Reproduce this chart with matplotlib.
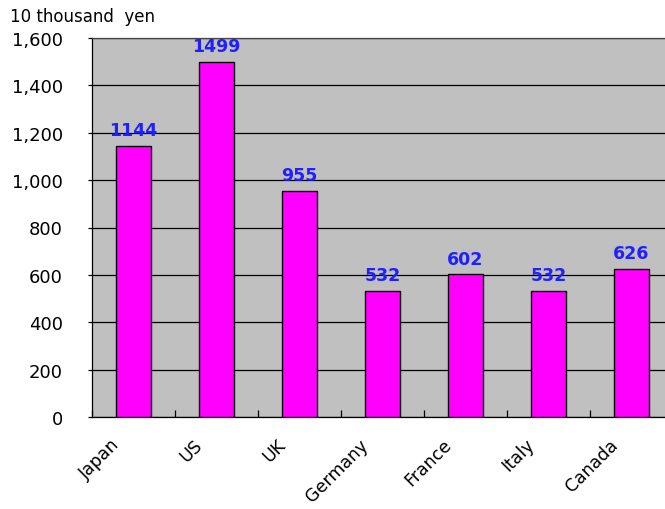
import matplotlib
matplotlib.use("Agg")
import matplotlib.pyplot as plt
import matplotlib.transforms as mtransforms
import numpy as np

countries = ["Japan", "US", "UK", "Germany", "France", "Italy", "Canada"]
values = [1144, 1499, 955, 532, 602, 532, 626]
yticks = [0, 200, 400, 600, 800, 1000, 1200, 1400, 1600]
ytick_labels = ["0", "200", "400", "600", "800", "1,000", "1,200", "1,400", "1,600"]
unit_label = "10 thousand  yen"

plt.rcParams['font.family'] = ['DejaVu Sans']

fig = plt.figure(figsize=(6.65, 5.1), dpi=100)
W, H = 665, 510
left, right, top, bottom = 92, 673, 39, 418
ax = fig.add_axes([left / W, (H - bottom) / H, (right - left) / W, (bottom - top) / H])
ax.set_facecolor("#C0C0C0")

x = np.arange(len(countries))
ax.bar(x, values, width=0.41, color="#FF00FF", edgecolor="black", linewidth=1, zorder=3)
for xi, v in zip(x, values):
    ax.text(xi, v + 28, str(v), ha="center", va="bottom", color="#1F1FFF",
            fontsize=12.5, fontweight="bold", zorder=4)

ax.set_xlim(-0.5, len(countries) - 0.5)
ax.set_ylim(0, 1600)
ax.set_yticks(yticks)
ax.set_yticklabels(ytick_labels, fontsize=13)
ax.yaxis.grid(True, color="black", linewidth=0.9, zorder=1)
ax.set_axisbelow(True)
ax.tick_params(axis="y", direction="out", length=3, pad=18, width=0.9)

# category boundary ticks (inside) and labels at centers
ax.set_xticks(np.arange(len(countries) + 1) - 0.5, minor=False)
ax.set_xticklabels([""] * (len(countries) + 1))
ax.tick_params(axis="x", which="major", direction="in", length=5, width=0.9)
ax.set_xticks(x, minor=True)
ax.set_xticklabels(countries, minor=True, rotation=45, ha="right", va="top",
                   rotation_mode="anchor", fontsize=12.5)
ax.tick_params(axis="x", which="minor", length=0, pad=8)
offset = mtransforms.ScaledTranslation(-23 / 100, -7 / 100, fig.dpi_scale_trans)
for lbl in ax.get_xticklabels(minor=True):
    lbl.set_transform(lbl.get_transform() + offset)

for s in ["left", "bottom", "top", "right"]:
    ax.spines[s].set_linewidth(0.9)
    ax.spines[s].set_color("black")
ax.spines["top"].set_color("#444444")

fig.text(10 / W, 1 - 17 / H, unit_label, ha="left", va="center", fontsize=12)

fig.savefig("out.png", dpi=100)
